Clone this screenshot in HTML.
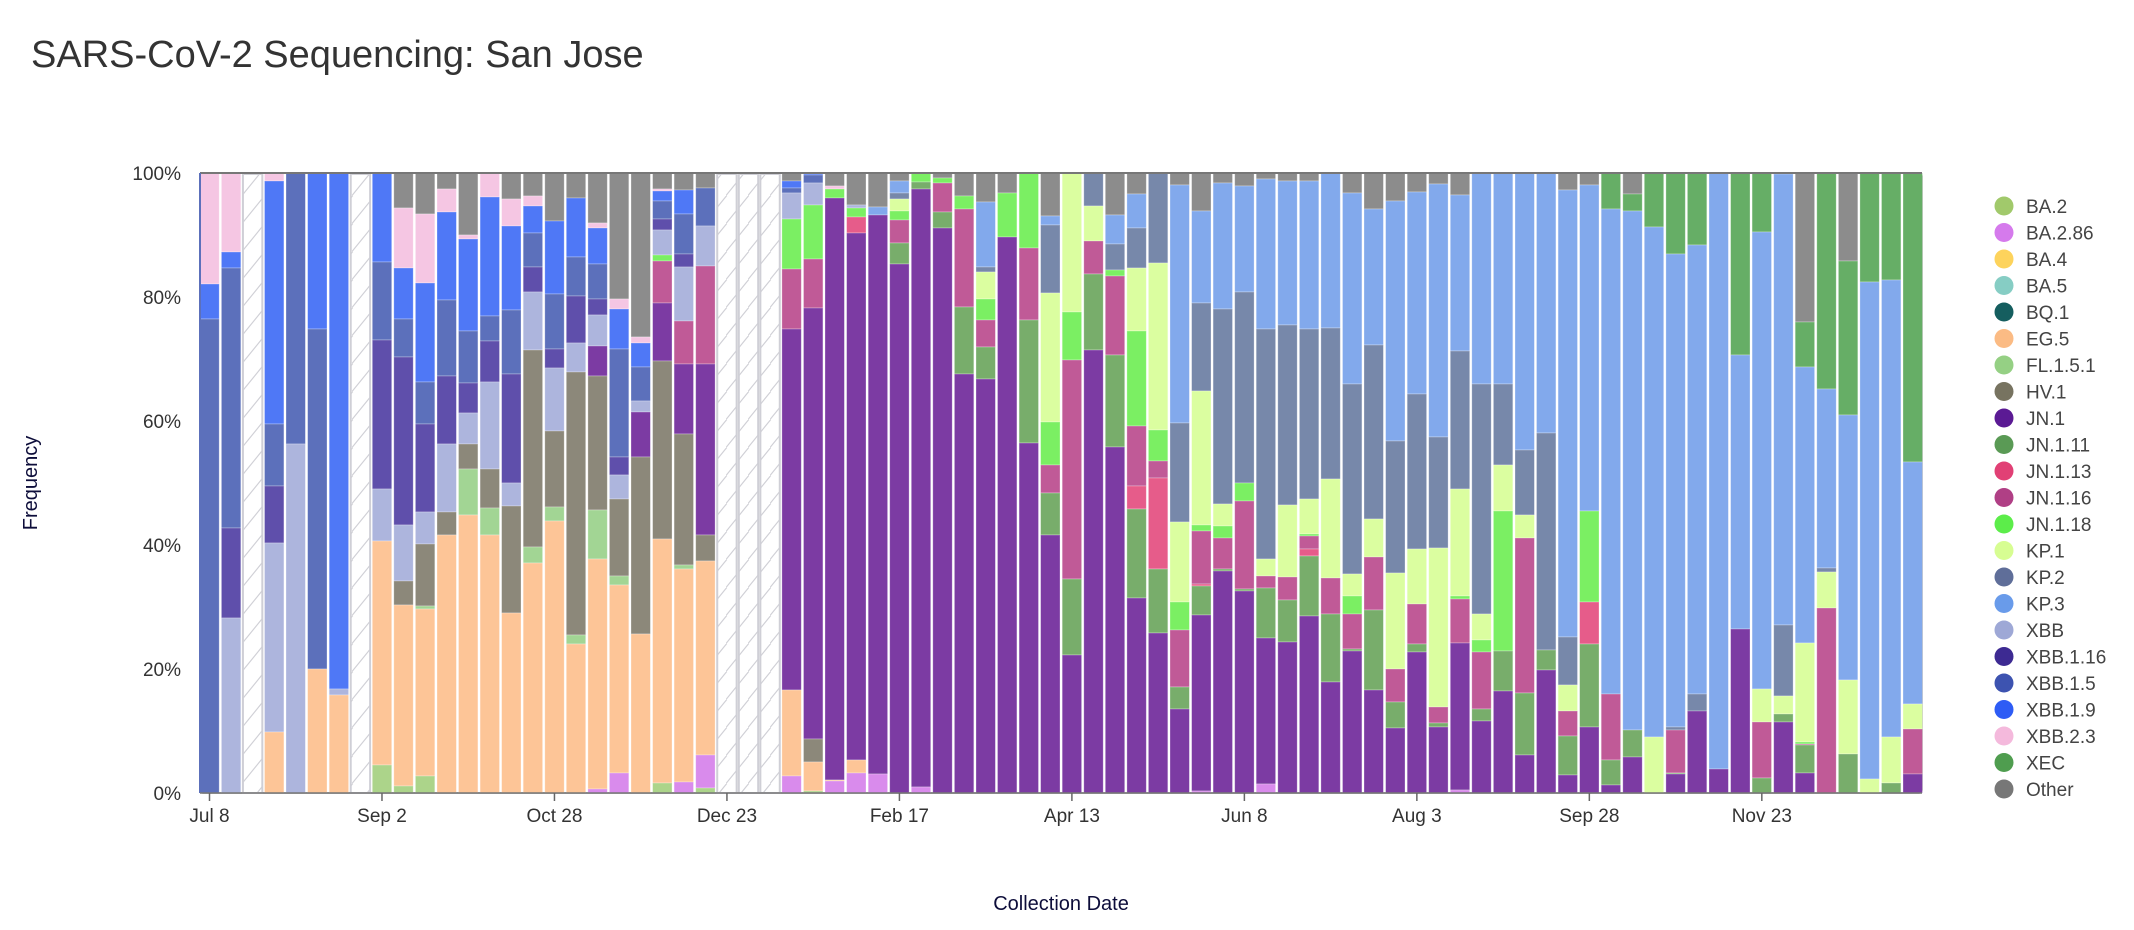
<!DOCTYPE html>
<html><head><meta charset="utf-8"><style>
html,body{margin:0;padding:0;background:#fff;width:2134px;height:930px;overflow:hidden}
svg text{font-family:"Liberation Sans",Arial,sans-serif}
</style></head><body>
<svg id="s" width="2134" height="930" xmlns="http://www.w3.org/2000/svg">
<defs>
<pattern id="hatch" patternUnits="userSpaceOnUse" width="22" height="28">
<path d="M-2,30 L24,-2" stroke="#d0d0d6" stroke-width="1.2"/>
<path d="M-24,30 L2,-2" stroke="#d0d0d6" stroke-width="1.2"/>
</pattern>
</defs>
<text x="31" y="67" font-size="38" fill="#333">SARS-CoV-2 Sequencing: San Jose</text>
<text transform="translate(37,483) rotate(-90)" text-anchor="middle" font-size="20" fill="#0d0d3a">Frequency</text>
<text x="1061" y="910" text-anchor="middle" font-size="20" fill="#0d0d3a">Collection Date</text>
<g id="g"></g>
</svg>
<script>
var C={p:'#f5c6e3',b:'#4f78f6',c:'#5c70bb',d:'#5f4fab',x:'#adb5dd',e:'#fdc597',h:'#8c887a',f:'#a2d594',o:'#8c8c8c',n:'#d98bec',a:'#acd48a',j:'#7c3ba3',m:'#c05a97',g:'#7bef63',r:'#e65c8a',k:'#78ad6b',q:'#dbfea0',s:'#7788aa',t:'#82a9ec',z:'#66ae66'};
var D=[
"p284 b319 c793","p252 b268 c528 d618 x793","H","p181 b424 c486 d543 x732 e793","c444 x793","b329 c669 e793","b689 x695 e793","H",
"b262 c340 d489 x541 e765 a793","o208 p268 b319 c357 d525 x581 h605 e786 a793","o214 p283 b382 c424 d512 x544 h606 f609 e776 a793",
"o189 p212 b300 c376 d444 x512 h535 e793","o235 p239 b331 c383 d413 x444 h469 f515 e793","p197 b316 c341 d382 x469 h508 f535 e793",
"o199 p226 b310 c374 d483 x506 h613 e793","o196 p206 b233 c267 d292 x350 h547 f563 e793","o221 b294 c349 d368 x431 h507 f521 e793",
"o198 b257 c296 d343 x372 h635 f644 e793","o223 p228 b264 c299 d315 x346 j376 h510 f559 e789 n793","o299 p309 b349 c457 d475 x499 h576 f585 e773 n793",
"o337 p343 b367 c401 x412 j457 h634 e793","o189 p191 b201 c219 d230 x255 g261 m303 j361 h539 e783 a793","o190 b214 c254 d267 x321 m364 j434 h565 f569 e782 n793",
"o188 c226 x266 m364 j535 h561 e755 n788 a793","H","H","H",
"o181 b188 c193 x219 g269 m329 j690 e776 n793","b175 c183 x205 g259 m308 j739 h762 e791 a793","o186 p189 g198 j780 e781 n793",
"o205 x208 g217 r233 j760 e773 n793","o207 t215 j774 n793","o181 t193 s199 q211 g220 m243 k264 j793","g182 k189 j787 n793",
"o178 g183 m212 k228 j793","o196 g209 m307 k374 j793","o202 t267 s272 q299 g320 m347 k379 j793","o193 g237 j793",
"g248 m320 k443 j793","o216 t225 s293 q422 g465 m493 k535 j793","q312 g360 m579 k655 j793","s206 q241 m274 k350 j793",
"o215 t244 s270 g276 m355 k447 j793","o194 t228 s268 q331 g426 m486 r509 k598 j793","s263 q430 g461 m478 r569 k633 j793",
"o185 t423 s522 q602 g630 m687 k709 j793","o211 t303 s391 q525 g531 m584 r586 k615 j791 n793","o183 t309 s504 q526 g538 m569 k571 j793",
"o186 t292 s483 g501 m589 k591 j793","o179 t329 s559 q576 m588 k638 j784 n793","o181 t325 s505 q577 m600 k642 j793",
"o181 t329 s499 q534 g536 m549 r556 k616 j793","t328 s479 q578 m614 k682 j793","o193 t384 s574 q596 g614 m649 k651 j793",
"o209 t345 s519 q557 m610 k690 j793","o201 t441 s573 q669 m702 k728 j793","o192 t394 s549 q604 m644 k652 j793",
"o184 t437 s548 q707 m723 k727 j793","o195 t351 s489 q596 g599 m643 j790 n793","t384 s614 q640 g652 m709 k721 j793",
"t384 s465 q511 g651 k691 j793","t450 s515 q538 m693 k755 j793","t433 s650 k670 j793","o190 t637 s685 q711 m736 k775 j793",
"o185 t511 g602 r644 k727 j793","z209 t694 m760 k785 j793","o194 z211 t730 k757 j793","z227 t737 q793",
"z254 t727 s730 m773 k774 j793","z245 t694 s711 j793","t769 j793","z355 t629 j793","z232 t689 q722 m778 k793",
"z174 t625 s696 q714 k722 j793","o322 z367 t643 q742 g744 m745 k773 j793","z389 t568 s572 q608 m793",
"o261 z415 t680 q754 k793","z282 t779 q793","z280 t737 q783 k793","z462 t704 q729 m774 j793"];
var out='';
var L=200,T=173,B=793,R=1922,P=21.56,X0=209.5,W=19.4;
out+='<rect x="'+L+'" y="'+T+'" width="'+(R-L)+'" height="'+(B-T)+'" fill="none" stroke="#777" stroke-width="1.5" rx="3"/>';
for(var i=0;i<D.length;i++){
  var cx=X0+P*i,x=cx-W/2;
  if(D[i]==='H'){out+='<rect x="'+(x)+'" y="'+(T+1)+'" width="'+W+'" height="'+(B-T-1)+'" fill="url(#hatch)" stroke="#cfcfd6" stroke-width="2"/>';continue;}
  var segs=D[i].split(' '),y=T;
  segs.forEach(function(sg){var col=C[sg[0]],yb=parseFloat(sg.slice(1));
    if(yb>y)out+='<rect x="'+x.toFixed(1)+'" y="'+y.toFixed(1)+'" width="'+W+'" height="'+(yb-y).toFixed(1)+'" fill="'+col+'" stroke="rgba(255,255,255,0.35)" stroke-width="0.8"/>';
    y=yb;});
}
out+='<line x1="'+L+'" y1="'+T+'" x2="'+R+'" y2="'+T+'" stroke="#777" stroke-width="2"/>';
out+='<line x1="'+L+'" y1="'+T+'" x2="'+L+'" y2="'+B+'" stroke="#5c70bb" stroke-width="2"/>';
out+='<line x1="'+L+'" y1="'+B+'" x2="'+R+'" y2="'+B+'" stroke="#777" stroke-width="1.5"/>';
for(var k=0;k<=5;k++){var yy=B-k*124;out+='<text x="181" y="'+(yy+7)+'" text-anchor="end" font-size="19" fill="#333">'+(k*20)+'%</text>';}
var lab=['Jul 8','Sep 2','Oct 28','Dec 23','Feb 17','Apr 13','Jun 8','Aug 3','Sep 28','Nov 23'];
lab.forEach(function(t,q){var xx=X0+P*8*q;out+='<line x1="'+xx+'" y1="'+B+'" x2="'+xx+'" y2="'+(B+8)+'" stroke="#666" stroke-width="1.5"/>';
 out+='<text x="'+xx+'" y="822" text-anchor="middle" font-size="19" fill="#333">'+t+'</text>';});
var LG=[['BA.2','#a1c96b'],['BA.2.86','#d57aec'],['BA.4','#fdd35c'],['BA.5','#86cdc4'],['BQ.1','#155e5f'],['EG.5','#fbbb84'],['FL.1.5.1','#95d084'],['HV.1','#777360'],['JN.1','#5b1a94'],['JN.1.11','#5a9a55'],['JN.1.13','#e14075'],['JN.1.16','#b03f85'],['JN.1.18','#5ced4a'],['KP.1','#d7fd92'],['KP.2','#5f6e99'],['KP.3','#699bea'],['XBB','#9ea8d6'],['XBB.1.16','#3d2a92'],['XBB.1.5','#3d53b0'],['XBB.1.9','#2e5cf5'],['XBB.2.3','#f4b9dc'],['XEC','#4f9d4f'],['Other','#777']];
LG.forEach(function(l,q){var yy=206+q*26.5;out+='<circle cx="2004" cy="'+yy+'" r="9.5" fill="'+l[1]+'"/><text x="2026" y="'+(yy+7)+'" font-size="19" fill="#444">'+l[0]+'</text>';});
document.getElementById('g').innerHTML=out;
</script>
</body></html>
